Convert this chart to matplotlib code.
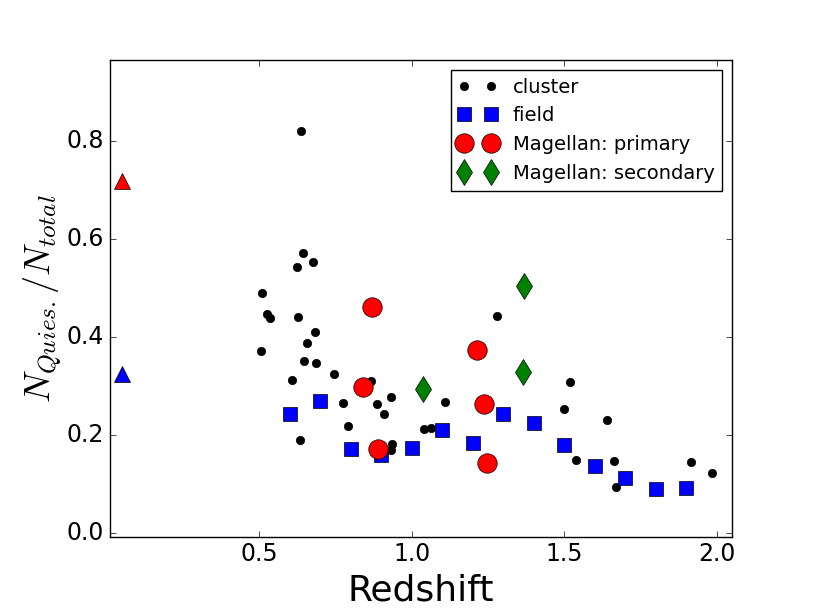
import matplotlib
matplotlib.use("Agg")
import matplotlib.pyplot as plt

# cluster fractions
cluster_z = [0.637, 0.643, 0.625, 0.677, 0.510, 0.527, 0.535, 0.628, 0.684, 0.657,
             0.505, 0.647, 0.685, 0.744, 0.606, 0.865, 0.773, 0.931, 0.887, 0.909,
             0.790, 0.632, 0.934, 0.931, 1.039, 1.063, 1.280, 1.518, 1.109, 1.500,
             1.640, 1.539, 1.664, 1.671, 1.915, 1.983]
cluster_f = [0.822, 0.573, 0.544, 0.554, 0.491, 0.447, 0.440, 0.442, 0.410, 0.388,
             0.373, 0.352, 0.348, 0.325, 0.313, 0.311, 0.265, 0.278, 0.264, 0.243,
             0.219, 0.190, 0.182, 0.169, 0.212, 0.214, 0.443, 0.309, 0.268, 0.253,
             0.231, 0.149, 0.148, 0.094, 0.146, 0.124]

# field fractions
field_z = [0.6, 0.7, 0.8, 0.9, 1.0, 1.1, 1.2, 1.3, 1.4, 1.5, 1.6, 1.7, 1.8, 1.9]
field_f = [0.243, 0.270, 0.172, 0.160, 0.175, 0.211, 0.185, 0.243, 0.226, 0.180,
           0.137, 0.112, 0.090, 0.092]

# Magellan
prim_z = [0.870, 0.839, 0.889, 1.214, 1.238, 1.247]
prim_f = [0.462, 0.299, 0.173, 0.375, 0.264, 0.143]
sec_z = [1.038, 1.367, 1.364]
sec_f = [0.294, 0.504, 0.330]

# local values
local_z = [0.049, 0.049]
local_f = [0.720, 0.326]
local_c = ["red", "blue"]

plt.style.use("classic")
fig = plt.figure(figsize=(8.13, 6.13), dpi=100, facecolor="white")
ax = fig.add_axes([0.135, 0.1245, 0.7655, 0.7775])

ax.plot(cluster_z, cluster_f, "ko", markersize=6, label="cluster")
ax.plot(field_z, field_f, "bs", markersize=10, markeredgewidth=0.5, label="field")
ax.plot(prim_z, prim_f, "ro", markersize=14, markeredgewidth=0.5, label="Magellan: primary")
ax.plot(sec_z, sec_f, "gd", markersize=13.5, markeredgewidth=0.5, label="Magellan: secondary")
for z, f, c in zip(local_z, local_f, local_c):
    ax.plot([z], [f], "^", color=c, markersize=12, markeredgewidth=0.5)

ax.set_xlim(0.01, 2.05)
ax.set_ylim(-0.007, 0.966)
ax.set_xticks([0.5, 1.0, 1.5, 2.0])
ax.set_yticks([0.0, 0.2, 0.4, 0.6, 0.8])
ax.tick_params(labelsize=17)
ax.set_xlabel("Redshift", fontsize=26)
ax.set_ylabel(r"$N_{Quies.}/N_{total}$", fontsize=26, labelpad=2)

ax.legend(loc="upper right", numpoints=2, fontsize=14)

fig.savefig("out.png", dpi=100, facecolor="white")
